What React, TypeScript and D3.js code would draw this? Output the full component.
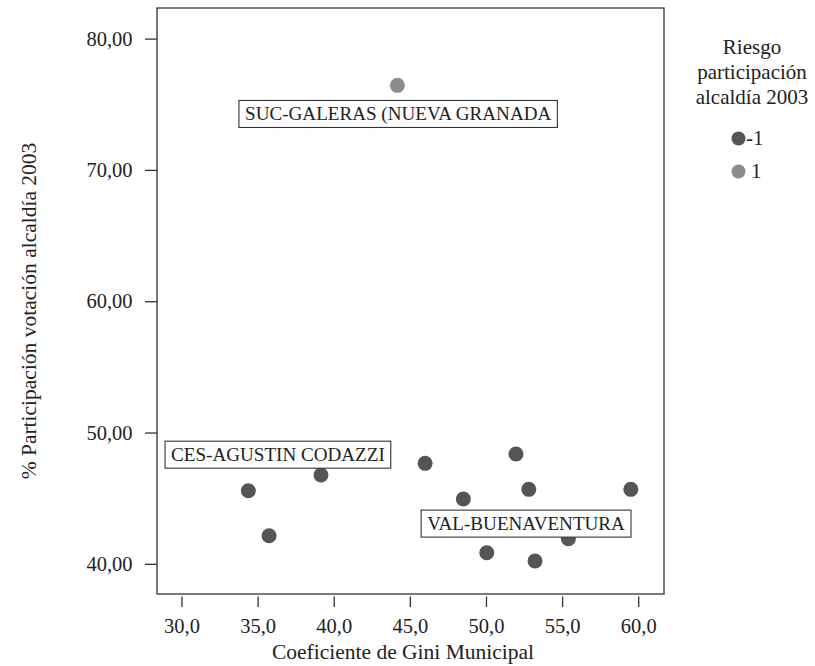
import React from "react";
import * as d3 from "d3";

const giniLow = [34.36, 35.72, 39.13, 45.97, 48.48, 51.94, 52.78, 59.48, 55.38, 50.02, 53.19];
const partLow = [45.6, 42.18, 46.8, 47.69, 44.97, 48.4, 45.71, 45.71, 41.95, 40.88, 40.25];
const giniHigh = [44.15];
const partHigh = [76.48];
const xTicks = [30, 35, 40, 45, 50, 55, 60];
const yTicks = [40, 50, 60, 70, 80];
const labelTexts = ["SUC-GALERAS (NUEVA GRANADA", "CES-AGUSTIN CODAZZI", "VAL-BUENAVENTURA"];
const labelX = [44.2, 36.3, 52.6];
const labelY = [74.3, 48.35, 43.1];
const legendTitle = ["Riesgo", "participación", "alcaldía 2003"];
const legendLabels = ["-1", "1"];
const colors = ["#555555", "#8c8c8c"];

const FONT = "'Liberation Serif', 'DejaVu Serif', serif";

export default function App() {
  const W = 815, H = 666;
  const left = 157, right = 664, top = 8, bottom = 594;
  const x = d3.scaleLinear().domain([28.36, 61.66]).range([left, right]);
  const y = d3.scaleLinear().domain([37.74, 82.37]).range([bottom, top]);
  const fmtX = (v: number) => v.toFixed(1).replace(".", ",");
  const fmtY = (v: number) => v.toFixed(2).replace(".", ",");
  const low = giniLow.map((g, i) => ({ g, p: partLow[i] }));
  const high = giniHigh.map((g, i) => ({ g, p: partHigh[i] }));
  return (
    <svg width={W} height={H} style={{ position: "absolute", left: 0, top: 0, background: "#fff" }} fontFamily={FONT}>
      <rect x={0} y={0} width={W} height={H} fill="#fff" />
      <rect x={left} y={top} width={right - left} height={bottom - top} fill="none" stroke="#333" strokeWidth={1.3} />
      {xTicks.map((t) => (
        <g key={"x" + t}>
          <line x1={x(t)} x2={x(t)} y1={bottom + 2.5} y2={bottom + 13} stroke="#333" strokeWidth={1.3} />
          <text x={x(t)} y={633} textAnchor="middle" fontSize={20.5} fill="#222">{fmtX(t)}</text>
        </g>
      ))}
      {yTicks.map((t) => (
        <g key={"y" + t}>
          <line x1={left - 12} x2={left} y1={y(t)} y2={y(t)} stroke="#333" strokeWidth={1.3} />
          <text x={132.5} y={y(t) + 6.5} textAnchor="end" fontSize={20.5} fill="#222">{fmtY(t)}</text>
        </g>
      ))}
      <text x={403} y={659} textAnchor="middle" fontSize={21.5} fill="#222">Coeficiente de Gini Municipal</text>
      <text transform={`translate(36,${311}) rotate(-90)`} textAnchor="middle" fontSize={21.5} fill="#222">% Participación votación alcaldía 2003</text>
      {low.map((d, i) => (
        <circle key={"l" + i} cx={x(d.g)} cy={y(d.p)} r={7.5} fill={colors[0]} />
      ))}
      {high.map((d, i) => (
        <circle key={"h" + i} cx={x(d.g)} cy={y(d.p)} r={7.5} fill={colors[1]} />
      ))}
      {labelTexts.map((t, i) => (
        <LabelBox key={"lab" + i} text={t} cx={x(labelX[i])} cy={y(labelY[i])} />
      ))}
      {legendTitle.map((t, i) => (
        <text key={"lt" + i} x={752} y={54 + i * 25} textAnchor="middle" fontSize={21} fill="#222">{t}</text>
      ))}
      {legendLabels.map((t, i) => (
        <g key={"ll" + i}>
          <circle cx={738.5} cy={138.5 + i * 33} r={7} fill={colors[i]} />
          <text x={t === "-1" ? 746 : 751} y={145 + i * 33} fontSize={21} fill="#222">{t}</text>
        </g>
      ))}
    </svg>
  );
}

function LabelBox({ text, cx, cy }: { text: string; cx: number; cy: number }) {
  const ref = React.useRef<SVGTextElement>(null);
  const [w, setW] = React.useState(text.length * 11);
  React.useLayoutEffect(() => {
    if (ref.current) setW(ref.current.getBBox().width);
  }, [text]);
  const bw = w + 12;
  return (
    <g>
      <rect x={cx - bw / 2} y={cy - 13.5} width={bw} height={27} fill="#fff" stroke="#333" strokeWidth={1.1} />
      <text ref={ref} x={cx} y={cy + 6.5} textAnchor="middle" fontSize={19.1} fill="#222">{text}</text>
    </g>
  );
}
